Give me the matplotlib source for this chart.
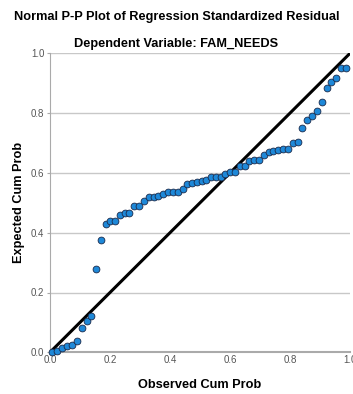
import matplotlib
matplotlib.use("Agg")
import matplotlib.pyplot as plt

plt.rcParams['font.family'] = ['Liberation Sans', 'DejaVu Sans']

# observed vs expected cumulative probability
obs_cum = [0.006, 0.024, 0.041, 0.058, 0.073, 0.089, 0.106, 0.122, 0.138, 0.153,
           0.169, 0.186, 0.201, 0.218, 0.233, 0.249, 0.264, 0.281, 0.297, 0.312,
           0.329, 0.346, 0.361, 0.377, 0.393, 0.409, 0.426, 0.442, 0.457, 0.473,
           0.489, 0.506, 0.521, 0.538, 0.553, 0.569, 0.584, 0.600, 0.617, 0.633,
           0.649, 0.664, 0.681, 0.697, 0.713, 0.729, 0.744, 0.761, 0.777, 0.792,
           0.809, 0.826, 0.841, 0.858, 0.874, 0.890, 0.907, 0.922, 0.938, 0.953,
           0.970, 0.986]
exp_cum = [0.000, 0.005, 0.013, 0.022, 0.024, 0.039, 0.080, 0.104, 0.121, 0.277,
           0.374, 0.430, 0.438, 0.438, 0.458, 0.467, 0.467, 0.489, 0.489, 0.507,
           0.518, 0.518, 0.524, 0.530, 0.535, 0.535, 0.535, 0.547, 0.563, 0.565,
           0.569, 0.574, 0.577, 0.585, 0.585, 0.585, 0.597, 0.604, 0.604, 0.622,
           0.624, 0.641, 0.643, 0.644, 0.660, 0.669, 0.673, 0.677, 0.680, 0.680,
           0.699, 0.702, 0.749, 0.778, 0.791, 0.806, 0.836, 0.884, 0.903, 0.919,
           0.952, 0.952]
ticks = [0.0, 0.2, 0.4, 0.6, 0.8, 1.0]

fig = plt.figure(figsize=(3.53, 3.94), dpi=100)
ax = fig.add_axes([50/353, 1 - 352.3/394, 300/353, 299/394])

for t in ticks[1:]:
    ax.axhline(t, color='#c8c8c8', lw=1.0, zorder=0)

ax.plot([0, 1], [0, 1], color='black', lw=2.2, zorder=2, solid_capstyle='butt')
ax.scatter(obs_cum, exp_cum, s=24, c='#1e88d8', edgecolors='#1a2a4a',
           linewidths=0.6, zorder=3, clip_on=False)

ax.set_xlim(0, 1)
ax.set_ylim(0, 1)
ax.set_xticks(ticks)
ax.set_yticks(ticks)
ax.set_xticklabels(['%.1f' % t for t in ticks])
ax.set_yticklabels(['%.1f' % t for t in ticks])
ax.tick_params(axis='both', labelsize=7, colors='#555555', length=0, pad=2)
ax.tick_params(axis='y', length=2, color='#aaaaaa', width=0.8)

for s in ['top', 'right']:
    ax.spines[s].set_visible(False)
ax.spines['left'].set_color('#aaaaaa')
ax.spines['left'].set_linewidth(0.8)
ax.spines['bottom'].set_color('#aaaaaa')
ax.spines['bottom'].set_linewidth(1.5)

ax.set_xlabel('Observed Cum Prob', fontsize=9.2, fontweight='bold', labelpad=10)
ax.set_ylabel('Expected Cum Prob', fontsize=9.2, fontweight='bold', labelpad=4.5)

fig.text(0.5, 1 - 17/394, 'Normal P-P Plot of Regression Standardized Residual',
         ha='center', va='center', fontsize=9.2, fontweight='bold')
fig.text(0.5, 1 - 44/394, 'Dependent Variable: FAM_NEEDS',
         ha='center', va='center', fontsize=9.2, fontweight='bold')

fig.savefig('out.png', dpi=100)
